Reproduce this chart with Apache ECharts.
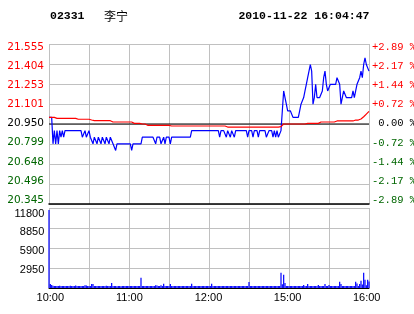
<!DOCTYPE html>
<html><head><meta charset="utf-8">
<script src="https://cdn.jsdelivr.net/npm/echarts@6/dist/echarts.min.js"></script>
<style>html,body{margin:0;padding:0;background:#fff}#c{width:414px;height:314px}</style>
</head><body><div id="c"></div>
<script>
// ---- data ----
const stockCode = '02331';
const stockName = '李宁';
const timestamp = '2010-11-22 16:04:47';
const prevClose = 20.95;
const timeTickLabels = {0: '10:00', 60: '11:00', 120: '12:00', 180: '15:00', 240: '16:00'};
const priceTickLabels = ['20.345', '20.496', '20.648', '20.799', '20.950', '21.101', '21.253', '21.404', '21.555'];
const pctTickLabels = ['-2.89 %', '-2.17 %', '-1.44 %', '-0.72 %', ' 0.00 %', '+0.72 %', '+1.44 %', '+2.17 %', '+2.89 %'];
const volTickLabels = ['', '2950', '5900', '8850', '11800'];

// price per minute (0 = 10:00 ... 150 = 12:30/14:30 ... 240 = 16:00)
const price = [
 21.00,21.00,21.00,20.80,20.90,20.80,20.90,20.80,20.90,20.85,
 20.90,20.85,20.90,20.90,20.90,20.90,20.90,20.90,20.90,20.90,
 20.90,20.90,20.90,20.90,20.90,20.85,20.85,20.90,20.85,20.85,
 20.90,20.85,20.85,20.80,20.85,20.85,20.80,20.85,20.85,20.80,
 20.85,20.85,20.80,20.85,20.85,20.80,20.85,20.85,20.80,20.80,
 20.75,20.80,20.80,20.80,20.80,20.80,20.80,20.80,20.80,20.80,
 20.80,20.80,20.75,20.80,20.80,20.80,20.80,20.80,20.80,20.80,
 20.85,20.85,20.85,20.85,20.85,20.85,20.85,20.85,20.85,20.85,
 20.80,20.85,20.85,20.85,20.80,20.80,20.85,20.80,20.85,20.85,
 20.85,20.80,20.85,20.85,20.85,20.85,20.85,20.85,20.85,20.85,
 20.85,20.85,20.85,20.85,20.85,20.85,20.85,20.90,20.90,20.90,
 20.90,20.90,20.90,20.90,20.90,20.90,20.90,20.90,20.90,20.90,
 20.90,20.90,20.90,20.90,20.90,20.90,20.90,20.90,20.85,20.90,
 20.90,20.90,20.90,20.85,20.90,20.90,20.85,20.90,20.90,20.85,
 20.90,20.90,20.90,20.90,20.90,20.90,20.90,20.90,20.90,20.85,
 20.90,20.90,20.90,20.85,20.90,20.90,20.90,20.85,20.90,20.90,
 20.90,20.90,20.90,20.85,20.85,20.90,20.90,20.90,20.85,20.90,
 20.85,20.90,20.85,20.85,20.90,21.05,21.20,21.15,21.10,21.05,
 21.05,21.05,21.05,21.00,21.00,21.00,21.00,21.00,21.05,21.10,
 21.10,21.15,21.20,21.25,21.30,21.35,21.40,21.35,21.10,21.15,
 21.25,21.15,21.15,21.15,21.15,21.20,21.30,21.35,21.25,21.20,
 21.20,21.25,21.25,21.25,21.25,21.25,21.30,21.30,21.25,21.10,
 21.15,21.20,21.20,21.15,21.15,21.15,21.15,21.15,21.20,21.15,
 21.20,21.25,21.25,21.30,21.35,21.30,21.40,21.45,21.40,21.40,
 21.35
];

// average price line per minute
const avgPrice = [
 21.000,21.000,21.000,21.000,21.000,20.993,20.993,20.993,20.993,20.993,
 20.993,20.993,20.993,20.993,20.993,20.993,20.993,20.993,20.993,20.993,
 20.993,20.986,20.986,20.986,20.986,20.986,20.986,20.986,20.986,20.986,
 20.986,20.980,20.980,20.980,20.975,20.975,20.975,20.975,20.975,20.975,
 20.975,20.975,20.975,20.975,20.975,20.975,20.975,20.975,20.965,20.965,
 20.965,20.965,20.965,20.965,20.965,20.965,20.965,20.965,20.965,20.965,
 20.965,20.965,20.965,20.955,20.955,20.955,20.955,20.955,20.955,20.950,
 20.950,20.950,20.950,20.940,20.940,20.940,20.940,20.940,20.940,20.940,
 20.940,20.940,20.940,20.940,20.940,20.940,20.940,20.940,20.940,20.940,
 20.940,20.935,20.935,20.935,20.935,20.935,20.935,20.935,20.935,20.935,
 20.935,20.935,20.935,20.935,20.935,20.935,20.935,20.935,20.935,20.935,
 20.935,20.935,20.935,20.935,20.935,20.935,20.935,20.935,20.935,20.935,
 20.935,20.935,20.935,20.935,20.935,20.935,20.935,20.935,20.935,20.935,
 20.935,20.935,20.935,20.935,20.927,20.927,20.927,20.927,20.927,20.927,
 20.927,20.927,20.927,20.927,20.927,20.927,20.927,20.927,20.927,20.927,
 20.927,20.927,20.927,20.927,20.927,20.927,20.927,20.927,20.927,20.927,
 20.927,20.927,20.927,20.927,20.927,20.927,20.927,20.927,20.927,20.927,
 20.927,20.927,20.927,20.927,20.930,20.940,20.950,20.950,20.950,20.950,
 20.950,20.950,20.950,20.950,20.950,20.950,20.950,20.950,20.950,20.950,
 20.950,20.950,20.950,20.955,20.955,20.955,20.955,20.955,20.955,20.955,
 20.955,20.955,20.955,20.955,20.965,20.965,20.965,20.965,20.965,20.965,
 20.965,20.965,20.965,20.965,20.965,20.965,20.973,20.973,20.973,20.973,
 20.973,20.973,20.973,20.973,20.973,20.973,20.973,20.973,20.973,20.973,
 20.980,20.980,20.980,20.980,20.988,20.995,21.005,21.015,21.025,21.035,
 21.045
];

// volume per minute
const volume = [
 11500,600,450,350,300,300,280,300,320,300,
 300,300,280,300,300,300,320,300,300,280,
 380,300,300,300,280,300,300,400,380,300,
 300,300,600,580,300,300,300,280,300,300,
 300,300,300,320,300,300,300,750,300,300,
 300,250,280,300,250,300,300,280,300,300,
 300,300,300,300,300,280,300,300,300,1500,
 300,300,280,300,300,300,300,300,300,300,
 400,380,300,300,400,300,640,300,300,300,
 300,590,300,300,300,300,300,300,300,300,
 300,300,300,300,300,300,300,640,300,300,
 300,300,300,300,300,300,300,300,300,300,
 300,300,640,300,300,300,300,300,300,300,
 300,300,300,300,300,300,300,300,300,300,
 300,300,300,300,300,300,300,300,300,300,
 900,300,300,300,300,300,300,300,300,300,
 300,300,300,300,300,300,300,300,300,300,
 300,300,300,300,2250,550,1950,750,300,300,
 300,300,300,300,300,300,300,300,300,300,
 300,450,300,300,600,300,300,300,300,300,
 300,300,450,300,300,300,300,600,300,300,
 450,300,300,300,300,300,300,300,930,600,
 300,300,300,300,300,300,300,300,300,300,
 930,650,300,600,1080,500,2260,1200,400,1200,
 950
];

// ---- chart ----
const GRAY = '#c0c0c0';
const RED = '#ff0000', GREEN = '#006600', BLUE = '#0000ff';
const Y_HALF = 0.605, Y_STEP = 0.15125;
const idx = v => Math.round((v + Y_HALF) / Y_STEP);
const colorKey = i => (i > 4 ? 'r' : (i < 4 ? 'g' : 'k'));

const chart = echarts.init(document.getElementById('c'), null, {renderer: 'canvas'});
const hiddenAxis = {axisLine: {show: false}, axisTick: {show: false}, axisLabel: {show: false}, splitLine: {show: false}};

const option = {
  animation: false,
  backgroundColor: '#ffffff',
  grid: [
    {left: 49, top: 44, width: 320, height: 160, outerBoundsMode: 'none', containLabel: false},
    {left: 49, top: 208, width: 320, height: 80, outerBoundsMode: 'none', containLabel: false},
    {left: 50.3, top: 213.7, width: 316.4, height: 74.7, outerBoundsMode: 'none', containLabel: false},
    {left: 49, top: 47.3, width: 320, height: 152.7, outerBoundsMode: 'none', containLabel: false}
  ],
  xAxis: [
    {gridIndex: 0, type: 'value', min: 0, max: 240, interval: 30,
     axisLine: {show: true, onZero: false, lineStyle: {color: '#000', width: 1.5}},
     axisTick: {show: false}, axisLabel: {show: false},
     splitLine: {show: true, lineStyle: {color: GRAY, width: 1}}},
    {gridIndex: 1, type: 'value', min: 0, max: 240, interval: 30,
     axisLine: {show: true, onZero: false, lineStyle: {color: '#000', width: 1}},
     axisTick: {show: false}, axisLabel: {show: false},
     splitLine: {show: true, lineStyle: {color: GRAY, width: 1}}},
    {gridIndex: 2, type: 'value', min: 0, max: 240, interval: 60,
     axisLine: {show: false, onZero: false}, axisTick: {show: false}, splitLine: {show: false},
     axisLabel: {show: true, margin: 4, color: '#000', fontFamily: 'Liberation Sans', fontSize: 11,
       hideOverlap: false, showMinLabel: true, showMaxLabel: true,
       formatter: v => timeTickLabels[Math.round(v)] || ''}},
    Object.assign({gridIndex: 3, type: 'value', min: 0, max: 240}, hiddenAxis)
  ],
  yAxis: [
    {gridIndex: 0, type: 'value', min: -Y_HALF, max: Y_HALF, interval: Y_STEP,
     axisLine: {show: false}, axisTick: {show: false}, axisLabel: {show: false},
     splitLine: {show: true, lineStyle: {color: GRAY, width: 1}}},
    {gridIndex: 1, type: 'value', min: 0, max: 11800, interval: 2950,
     axisLine: {show: false}, axisTick: {show: false}, axisLabel: {show: false},
     splitLine: {show: true, lineStyle: {color: GRAY, width: 1}}},
    {gridIndex: 2, type: 'value', min: 0, max: 11800, interval: 2950,
     axisLine: {show: false}, axisTick: {show: false}, splitLine: {show: false},
     axisLabel: {show: true, margin: 6, color: '#000', fontFamily: 'Liberation Sans', fontSize: 11,
       showMinLabel: true, showMaxLabel: true,
       formatter: v => volTickLabels[Math.round(v / 2950)]}},
    {gridIndex: 3, type: 'value', position: 'left', min: -Y_HALF, max: Y_HALF, interval: Y_STEP,
     axisLine: {show: false}, axisTick: {show: false}, splitLine: {show: false},
     axisLabel: {show: true, margin: 5, showMinLabel: true, showMaxLabel: true,
       formatter: v => { const i = idx(v); return '{' + colorKey(i) + '|' + priceTickLabels[i] + '}'; },
       rich: {
         r: {color: RED, fontFamily: 'DejaVu Sans', fontSize: 10.5},
         k: {color: '#000', fontFamily: 'DejaVu Sans', fontSize: 10.5},
         g: {color: GREEN, fontFamily: 'DejaVu Sans', fontSize: 10.5}
       }}},
    {gridIndex: 3, type: 'value', position: 'right', min: -Y_HALF, max: Y_HALF, interval: Y_STEP,
     axisLine: {show: false}, axisTick: {show: false}, splitLine: {show: false},
     axisLabel: {show: true, margin: 3, align: 'left', showMinLabel: true, showMaxLabel: true,
       formatter: v => { const i = idx(v); return '{' + colorKey(i) + '|' + pctTickLabels[i] + '}'; },
       rich: {
         r: {color: RED, fontFamily: 'Liberation Mono', fontSize: 10.5},
         k: {color: '#000', fontFamily: 'Liberation Mono', fontSize: 10.5},
         g: {color: GREEN, fontFamily: 'Liberation Mono', fontSize: 10.5}
       }}}
  ],
  series: [
    {type: 'line', xAxisIndex: 0, yAxisIndex: 0, z: 2, silent: true, symbol: 'none',
     lineStyle: {color: '#000', width: 1.2},
     data: [[0, prevClose - prevClose], [240, prevClose - prevClose]]},
    {type: 'line', xAxisIndex: 0, yAxisIndex: 0, z: 3, symbol: 'none',
     lineStyle: {color: BLUE, width: 1.2},
     data: price.map((p, i) => [i, +(p - prevClose).toFixed(4)])},
    {type: 'line', xAxisIndex: 0, yAxisIndex: 0, z: 4, symbol: 'none',
     lineStyle: {color: RED, width: 1.2},
     data: avgPrice.map((p, i) => [i, +(p - prevClose).toFixed(4)])},
    {type: 'bar', xAxisIndex: 1, yAxisIndex: 1, barWidth: 1.2, z: 3,
     itemStyle: {color: BLUE},
     data: volume.map((v, i) => [i, v])}
  ],
  graphic: [
    {type: 'text', x: 50, y: 16, style: {text: stockCode, font: 'bold 11.5px "Liberation Mono"', fill: '#000', align: 'left', verticalAlign: 'middle'}},
    {type: 'text', x: 104, y: 16, style: {text: stockName, font: '12px "Noto Sans CJK SC"', fill: '#000', align: 'left', verticalAlign: 'middle'}},
    {type: 'text', x: 369.5, y: 16, style: {text: timestamp, font: 'bold 11.5px "Liberation Mono"', fill: '#000', align: 'right', verticalAlign: 'middle'}}
  ]
};
chart.setOption(option);
</script>
</body></html>
